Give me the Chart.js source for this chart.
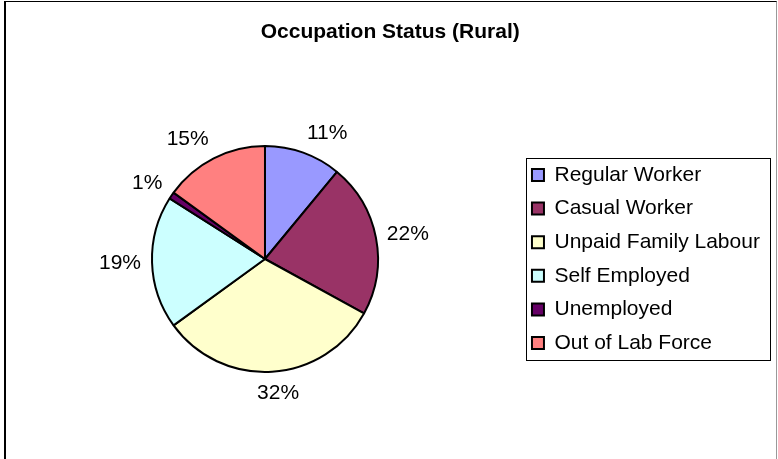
<!DOCTYPE html>
<html>
<head>
<meta charset="utf-8">
<script src="https://cdn.jsdelivr.net/npm/chart.js@4"></script>
<style>
  body { margin: 0; background: #fff; }
  #frame {
    position: absolute; left: 4px; top: 1px; width: 770px; height: 470px;
    border-left: 2px solid #000; border-top: 1px solid #000; border-right: 1px solid #999;
  }
  #occChart { position: absolute; left: 0; top: 0; }
</style>
</head>
<body>
<div id="frame"></div>
<canvas id="occChart" width="778" height="459"></canvas>
<script>
// data
const categories = ["Regular Worker", "Casual Worker", "Unpaid Family Labour", "Self Employed", "Unemployed", "Out of Lab Force"];
const shares = [11, 22, 32, 19, 1, 15];
const sliceColors = ["#9999FF", "#993366", "#FFFFCC", "#CCFFFF", "#660066", "#FF8080"];

const FONT = "'Liberation Sans', Arial, sans-serif";

// percent labels outside the pie, excel style
const outsideLabels = {
    id: 'outsideLabels',
    afterDatasetsDraw(chart) {
        const ctx = chart.ctx;
        const meta = chart.getDatasetMeta(0);
        ctx.save();
        ctx.font = "21px " + FONT;
        ctx.fillStyle = "#000";
        ctx.textAlign = "center";
        ctx.textBaseline = "middle";
        meta.data.forEach((arc, i) => {
            const p = arc.getProps(['x', 'y', 'startAngle', 'endAngle', 'outerRadius'], true);
            const mid = (p.startAngle + p.endAngle) / 2;
            const dx = Math.cos(mid), dy = Math.sin(mid);
            const R = p.outerRadius + 11;
            const text = shares[i] + "%";
            const hw = ctx.measureText(text).width / 2;
            const k = Math.max(-1, Math.min(1, dx * 4));
            ctx.fillText(text, p.x + R * dx + hw * k, p.y + R * dy + 10 * dy);
        });
        ctx.restore();
    }
};

// box around the legend
const legendFrame = {
    id: 'legendFrame',
    afterDraw(chart) {
        const lg = chart.legend;
        const pad = lg.options.labels.padding;
        const colH = lg.columnSizes[0].height;
        const y0 = (lg.top + pad + lg.bottom - colH) / 2;
        const ctx = chart.ctx;
        ctx.save();
        ctx.strokeStyle = "#000";
        ctx.lineWidth = 1;
        const x1 = Math.round(lg.left + pad / 2) + 0.5;
        const y1 = Math.round(y0 - pad / 2) + 0.5;
        const x2 = Math.round(lg.right) + 0.5;
        const y2 = Math.round(y0 - pad / 2 + colH) + 0.5;
        ctx.strokeRect(x1, y1, x2 - x1, y2 - y1);
        ctx.restore();
    }
};

Chart.defaults.color = "#000";

const occCtx = document.getElementById('occChart').getContext('2d');
const occChart = new Chart(occCtx, {
    type: 'pie',
    data: {
        labels: categories,
        datasets: [{
            data: shares,
            backgroundColor: sliceColors,
            borderColor: "#000",
            borderWidth: 2,
            radius: 113
        }]
    },
    options: {
        responsive: false,
        animation: false,
        devicePixelRatio: 1,
        events: [],
        layout: {
            padding: { left: 10.6, right: 8.1, top: 0, bottom: 11 }
        },
        plugins: {
            title: {
                display: true,
                text: "Occupation Status (Rural)",
                color: "#000",
                font: { family: FONT, size: 21, weight: 'bold' },
                padding: { top: 19.4, bottom: 25.4 }
            },
            legend: {
                position: 'right',
                fullSize: false,
                labels: {
                    font: { family: FONT, size: 21 },
                    color: "#000",
                    boxWidth: 12,
                    boxHeight: 12,
                    padding: 12.6
                }
            },
            tooltip: { enabled: false }
        }
    },
    plugins: [outsideLabels, legendFrame]
});
</script>
</body>
</html>
